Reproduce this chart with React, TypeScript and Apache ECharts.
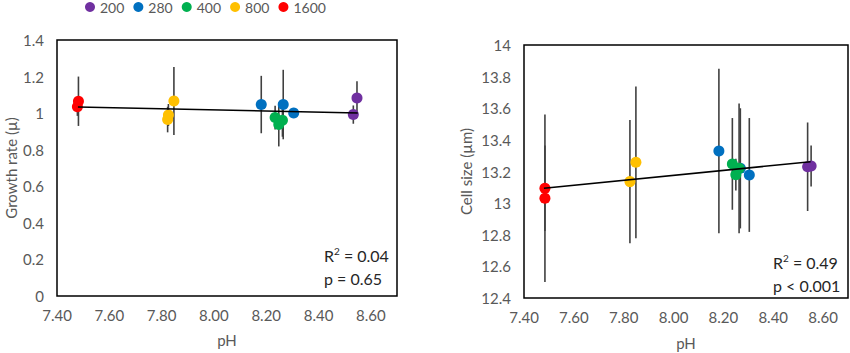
import React, { useEffect, useRef } from "react";
import * as echarts from "echarts";

// [pH, value, error]
const growth200 = [[8.547, 1.083, 0.092], [8.533, 0.992, 0.05]];
const growth280 = [[8.181, 1.047, 0.157], [8.265, 1.047, 0.19], [8.305, 1.001, 0.02]];
const growth400 = [[8.234, 0.976, 0.065], [8.248, 0.938, 0.12], [8.262, 0.961, 0.09]];
const growth800 = [[7.823, 0.965, 0.07], [7.826, 0.99, 0.06], [7.847, 1.066, 0.186]];
const growth1600 = [[7.482, 1.065, 0.135], [7.478, 1.035, 0.05]];

const size200 = [[8.538, 13.23, 0.28], [8.552, 13.235, 0.13]];
const size280 = [[8.182, 13.33, 0.52], [8.304, 13.178, 0.36], [8.268, 13.22, 0.38]];
const size400 = [[8.236, 13.248, 0.29], [8.25, 13.18, 0.1], [8.263, 13.22, 0.41]];
const size800 = [[7.825, 13.136, 0.39], [7.849, 13.258, 0.48]];
const size1600 = [[7.484, 13.094, 0.27], [7.484, 13.031, 0.53]];

const trendGrowth = [[7.48, 1.034], [8.55, 1.001]];
const trendSize = [[7.48, 13.094], [8.55, 13.262]];

const seriesNames = ["200", "280", "400", "800", "1600"];
const seriesColors = ["#7030A0", "#0070C0", "#00B050", "#FFC000", "#FF0000"];
const growthSets = [growth200, growth280, growth400, growth800, growth1600];
const sizeSets = [size200, size280, size400, size800, size1600];

const statsGrowth = ["0.04", "p = 0.65"];
const statsSize = ["0.49", "p < 0.001"];

const FONT = "Lato, 'Open Sans', sans-serif";
const GREY = "#595959";

export default function App() {
  const ref = useRef<HTMLDivElement>(null);
  useEffect(() => {
    document.body.style.margin = "0";
    const chart = echarts.init(ref.current!, null, { renderer: "svg" });

    const errSeries = (sets: number[][][], idx: number) => ({
      type: "custom",
      xAxisIndex: idx,
      yAxisIndex: idx,
      z: 1,
      silent: true,
      encode: { x: 0, y: [1, 2] },
      data: sets.flat().map((d) => [d[0], d[1] - d[2], d[1] + d[2]]),
      renderItem: (params: any, api: any) => {
        const x = api.value(0);
        const p1 = api.coord([x, api.value(1)]);
        const p2 = api.coord([x, api.value(2)]);
        return {
          type: "line",
          shape: { x1: p1[0], y1: p1[1], x2: p2[0], y2: p2[1] },
          style: { stroke: "#404040", lineWidth: 1.6 },
        };
      },
    });

    const scatter = (sets: number[][][], idx: number) =>
      sets.map((s, i) => ({
        type: "scatter",
        name: seriesNames[i],
        xAxisIndex: idx,
        yAxisIndex: idx,
        z: 2,
        symbol: "circle",
        symbolSize: 11,
        itemStyle: { color: seriesColors[i], opacity: 1 },
        data: s.map((d) => [d[0], d[1]]),
      }));

    const trend = (data: number[][], idx: number) => ({
      type: "line",
      xAxisIndex: idx,
      yAxisIndex: idx,
      z: 3,
      symbol: "none",
      silent: true,
      lineStyle: { color: "#000", width: 1.6 },
      data,
    });

    const xAxis = (gi: number, gap: number) => ({
      type: "value",
      gridIndex: gi,
      min: 7.4,
      max: 8.7,
      interval: 0.2,
      name: "pH",
      nameLocation: "middle",
      nameGap: gap,
      nameTextStyle: { color: GREY, fontSize: 15, fontFamily: FONT },
      splitLine: { show: false },
      axisLine: { show: false, onZero: false },
      axisTick: { show: false },
      axisLabel: {
        color: GREY,
        fontSize: 15,
        fontFamily: FONT,
        margin: 11,
        showMaxLabel: false,
        formatter: (v: number) => v.toFixed(2),
      },
    });

    const yAxis = (gi: number, min: number, max: number, name: string, gap: number, margin: number) => ({
      type: "value",
      gridIndex: gi,
      min,
      max,
      interval: 0.2,
      name,
      nameLocation: "middle",
      nameGap: gap,
      nameTextStyle: { color: GREY, fontSize: 15, fontFamily: FONT },
      splitLine: { show: false },
      axisLine: { show: false },
      axisTick: { show: false },
      axisLabel: {
        color: GREY,
        fontSize: 15,
        fontFamily: FONT,
        margin,
        formatter: (v: number) => String(parseFloat(v.toFixed(1))),
      },
    });

    const statText = (x: number, y: number, r2: string, p: string) => [
      {
        type: "text",
        x,
        y,
        style: {
          text: "{a|R}{s|2}{a| = " + r2 + "}",
          fill: "#262626",
          font: "16px " + FONT,
          verticalAlign: "middle",
          rich: {
            a: { fontSize: 16, fontFamily: FONT, fill: "#262626", lineHeight: 18 },
            s: { fontSize: 10, fontFamily: FONT, fill: "#262626", verticalAlign: "top", lineHeight: 18 },
          },
        },
      },
      {
        type: "text",
        x,
        y: y + 23,
        style: {
          text: p,
          fill: "#262626",
          font: "16px " + FONT,
          verticalAlign: "middle",
        },
      },
    ];

    const gridBase = {
      show: true,
      borderColor: "#000",
      borderWidth: 1.5,
      backgroundColor: "transparent",
      containLabel: false,
      outerBoundsMode: "none",
    };

    chart.setOption({
      animation: false,
      backgroundColor: "#fff",
      legend: {
        data: seriesNames,
        left: 85,
        top: 0,
        padding: 0,
        itemGap: 9,
        itemWidth: 10,
        itemHeight: 10,
        icon: "circle",
        textStyle: { color: GREY, fontSize: 14, fontFamily: FONT },
      },
      grid: [
        { ...gridBase, left: 57, top: 40, width: 340, height: 256 },
        { ...gridBase, left: 524, top: 45, width: 324, height: 253 },
      ],
      xAxis: [xAxis(0, 36), xAxis(1, 37)],
      yAxis: [
        yAxis(0, 0, 1.4, "Growth rate (µ)", 39, 13),
        yAxis(1, 12.4, 14, "Cell size (µm)", 51, 13),
      ],
      series: [
        errSeries(growthSets, 0),
        errSeries(sizeSets, 1),
        ...scatter(growthSets, 0),
        ...scatter(sizeSets, 1),
        trend(trendGrowth, 0),
        trend(trendSize, 1),
      ],
      graphic: [
        ...statText(324, 255, statsGrowth[0], statsGrowth[1]),
        ...statText(773, 262, statsSize[0], statsSize[1]),
      ],
    });
    return () => chart.dispose();
  }, []);
  return <div ref={ref} style={{ width: 850, height: 353 }} />;
}
